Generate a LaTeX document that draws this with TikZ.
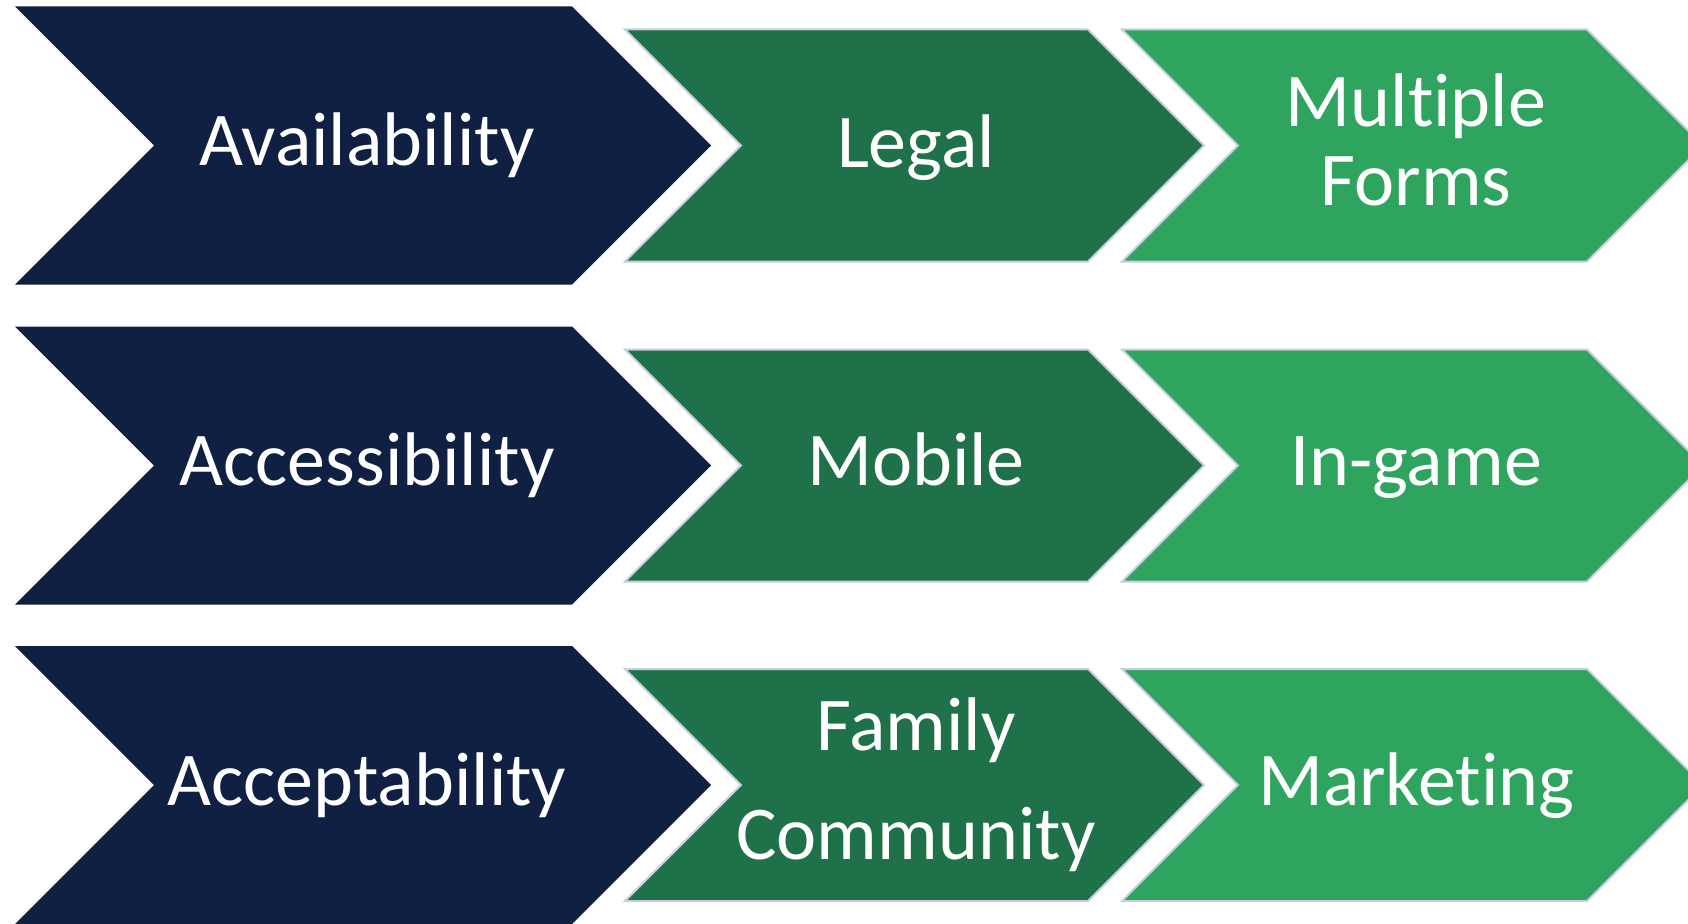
\documentclass[tikz,border=0pt]{standalone}
\usepackage{fontspec}
\setmainfont{Carlito}[Ligatures={NoCommon,NoRare,NoContextual}]
\definecolor{navy}{HTML}{0F2042}
\definecolor{dkgreen}{HTML}{1E7149}
\definecolor{ltgreen}{HTML}{2EA45E}
\definecolor{edgeblue}{HTML}{C8CDE0}
\newcommand\chevron[5]{% left, right corner, center y, half height, style
  \path[#5] (#1,#3-#4) -- (#2,#3-#4) -- (#2+#4,#3) -- (#2,#3+#4) -- (#1,#3+#4) -- (#1+#4,#3) -- cycle;}
\tikzset{
  navybox/.style={fill=navy},
  dkbox/.style={fill=dkgreen, draw=edgeblue, line width=2pt, line join=miter},
  ltbox/.style={fill=ltgreen, draw=edgeblue, line width=2pt, line join=miter},
  lbl/.style={text=white, inner sep=0pt, anchor=base, font=\fontsize{76}{80}\selectfont}
}
\begin{document}
\begin{tikzpicture}[x=1pt,y=-1pt]
\useasboundingbox (0,0) rectangle (1688,923);
\clip (0,0) rectangle (1688,923);
\fill[white] (0,0) rectangle (1688,923);
% row 1
\chevron{15}{572}{145.5}{139}{navybox}
\chevron{625}{1088}{145.5}{116}{dkbox}
\chevron{1122}{1587}{145.5}{116}{ltbox}
% row 2
\chevron{15}{572}{465.5}{139}{navybox}
\chevron{625}{1088}{465.5}{116}{dkbox}
\chevron{1122}{1587}{465.5}{116}{ltbox}
% row 3
\chevron{15}{572}{785}{139}{navybox}
\chevron{625}{1088}{785}{116}{dkbox}
\chevron{1122}{1587}{785}{116}{ltbox}
% labels
\node[lbl] (avail) at (367,165) {Availability};
\node[lbl] (legal) at (916,167) {Legal};
\node[lbl] (mult1) at (1416,127) {Multiple};
\node[lbl] (mult2) at (1416,205) {Forms};
\node[lbl] (access) at (367,485) {Accessibility};
\node[lbl] (mobile) at (916,485) {Mobile};
\node[lbl] (ingame) at (1416,485) {In-game};
\node[lbl] (accept) at (367,805) {Acceptability};
\node[lbl] (fam1) at (916,750) {Family};
\node[lbl] (fam2) at (916,859) {Community};
\node[lbl] (market) at (1416,805) {Marketing};
\end{tikzpicture}
\end{document}
